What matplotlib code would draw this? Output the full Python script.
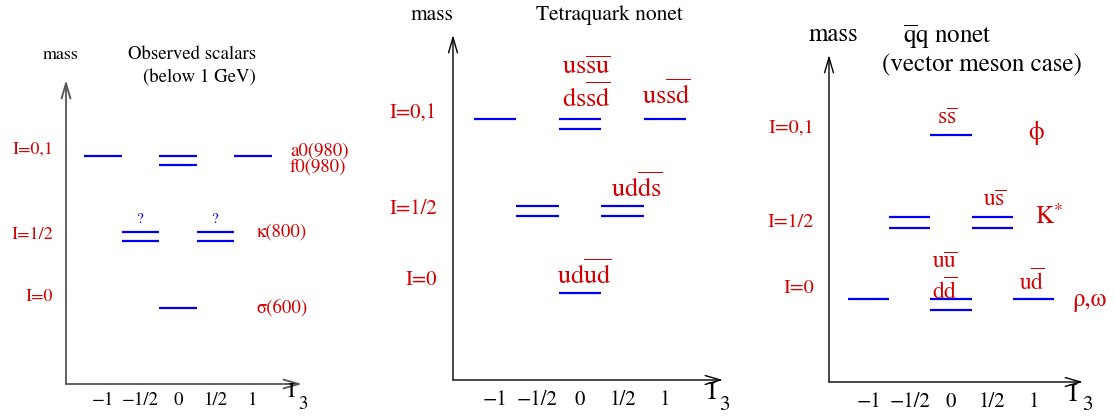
import matplotlib
matplotlib.use('Agg')
import matplotlib.pyplot as plt

plt.rcParams['font.family'] = 'STIXGeneral'
plt.rcParams['mathtext.fontset'] = 'stix'

RED = '#d40000'
BLUE = '#0000f0'

# shared axis labels
tick_pos = [-1, -0.5, 0, 0.5, 1]
tick_labels = ['\u22121', '\u22121/2', '0', '1/2', '1']
iso_levels = [0, 1, 2]
iso_labels = ['I=0', 'I=1/2', 'I=0,1']

# panel 1: observed scalars below 1 GeV
obs_i3 = [-1, 0, 1, -0.5, 0.5, 0]
obs_level = [2, 2, 2, 1, 1, 0]
obs_count = [1, 2, 1, 2, 2, 1]
obs_names = ['a0(980)\nf0(980)', '\u03ba(800)', '\u03c3(600)']

# panel 2: tetraquark nonet
tq_i3 = [-1, 0, 1, -0.5, 0.5, 0]
tq_level = [2, 2, 2, 1, 1, 0]
tq_count = [1, 2, 1, 2, 2, 1]
tq_quarks = [r'$\mathrm{us}\overline{\mathrm{su}}$',
             r'$\mathrm{ds}\overline{\mathrm{sd}}$',
             r'$\mathrm{us}\overline{\mathrm{sd}}$',
             r'$\mathrm{ud}\overline{\mathrm{ds}}$',
             r'$\mathrm{ud}\overline{\mathrm{ud}}$']

# panel 3: q-qbar nonet (vector mesons)
qq_i3 = [0, -0.5, 0.5, -1, 0, 1]
qq_level = [2, 1, 1, 0, 0, 0]
qq_count = [1, 2, 2, 1, 2, 1]
qq_quarks = [r'$\mathrm{s}\overline{\mathrm{s}}$',
             r'$\mathrm{u}\overline{\mathrm{s}}$',
             r'$\mathrm{u}\overline{\mathrm{u}}$',
             r'$\mathrm{d}\overline{\mathrm{d}}$',
             r'$\mathrm{u}\overline{\mathrm{d}}$']
qq_names = ['\u03d5', r'K$^{*}$', '\u03c1,\u03c9']

W, H = 1114, 416
fig = plt.figure(figsize=(W / 100, H / 100), dpi=100)


def panel(box, xlim, ylim, i3, level, count, gap, axcol, axlw,
          fs_tick, fs_iso, iso_x, iso_dy, i3_pos, fs_i3, tick_y):
    x0, x1, ytop, ybot = box
    ax = fig.add_axes([x0 / W, (H - ybot) / H, (x1 - x0) / W, (ybot - ytop) / H])
    ax.set_xlim(xlim)
    ax.set_ylim(ylim)
    ax.axis('off')
    arrow = dict(arrowstyle='->,head_length=0.55,head_width=0.16',
                 color=axcol, lw=axlw, mutation_scale=20, shrinkA=0, shrinkB=0)
    ax.annotate('', xy=(xlim[0], ylim[1]), xytext=(xlim[0], ylim[0]),
                arrowprops=arrow, annotation_clip=False)
    ax.annotate('', xy=(xlim[1], ylim[0]), xytext=(xlim[0], ylim[0]),
                arrowprops=arrow, annotation_clip=False)
    for x, lev, n in zip(i3, level, count):
        for k in range(n):
            ax.plot([x - 0.25, x + 0.25], [lev - k * gap] * 2, color=BLUE,
                    lw=1.6, solid_capstyle='butt', clip_on=False)
    for x, lab in zip(tick_pos, tick_labels):
        ax.text(x, tick_y, lab, fontsize=fs_tick, ha='center', va='center')
    for lev, lab, dy in zip(iso_levels, iso_labels, iso_dy):
        ax.text(iso_x, lev + dy, lab, fontsize=fs_iso, color=RED,
                ha='right', va='center')
    # I_3 axis label: big I with a lowered 3
    (ix, iy), (sx, sy) = i3_pos
    ax.text(ix, iy, 'I', fontsize=fs_i3, ha='center', va='center')
    ax.text(sx, sy, '3', fontsize=fs_i3 * 0.85, ha='center', va='center')
    return ax


# ---- panel 1
ax1 = panel((66, 302, 80, 384), (-1.493, 1.653), (-1.0, 3.0),
            obs_i3, obs_level, obs_count, 0.118, '#555555', 1.3,
            13.5, 13, -1.66, [0.15, -0.04, 0.09],
            ((1.507, -1.105), (1.667, -1.263)), 16, -1.21)
ax1.text(-1.56, 3.33, 'mass', fontsize=13, ha='center', va='center')
ax1.text(0.19, 3.33, 'Observed scalars', fontsize=13.5, ha='center', va='center')
ax1.text(0.28, 3.03, '(below 1 GeV)', fontsize=13.5, ha='center', va='center')
ax1.text(1.49, 1.96, obs_names[0], fontsize=13.5, color=RED, ha='left',
         va='center', linespacing=0.95)
ax1.text(1.05, 1.0, obs_names[1], fontsize=13.5, color=RED, ha='left', va='center')
ax1.text(1.05, 0.0, obs_names[2], fontsize=13.5, color=RED, ha='left', va='center')
for x in [-0.5, 0.5]:
    ax1.text(x, 1.17, '?', fontsize=11, color=BLUE, ha='center', va='center')

# ---- panel 2
ax2 = panel((453, 723, 35, 380), (-1.494, 1.682), (-1.0, 2.966),
            tq_i3, tq_level, tq_count, 0.12, 'black', 1.0,
            15, 15, -1.68, [0.15, -0.04, 0.07],
            ((1.553, -1.149), (1.694, -1.287)), 18, -1.23)
ax2.text(-1.74, 3.2, 'mass', fontsize=15.5, ha='center', va='center')
ax2.text(0.34, 3.2, 'Tetraquark nonet', fontsize=15.5, ha='center', va='center')
for lab, x, y in zip(tq_quarks, [0.07, 0.07, 1.02, 0.67, 0.05],
                     [2.59, 2.24, 2.28, 1.21, 0.21]):
    ax2.text(x, y, lab, fontsize=19, color=RED, ha='center', va='center')

# ---- panel 3
ax3 = panel((829, 1083, 55, 382), (-1.479, 1.6), (-1.01, 2.976),
            qq_i3, qq_level, qq_count, 0.134, 'black', 1.0,
            15, 14.5, -1.66, [0.13, -0.06, 0.085],
            ((1.479, -1.171), (1.648, -1.293)), 18, -1.26)
ax3.text(-1.42, 3.22, 'mass', fontsize=18, ha='center', va='center')
ax3.text(-0.04, 3.2, r'$\overline{\mathrm{q}}\mathrm{q}$ nonet', fontsize=18,
         ha='center', va='center')
ax3.text(0.376, 2.85, '(vector meson case)', fontsize=18, ha='center', va='center')
for lab, x, y in zip(qq_quarks, [-0.05, 0.53, -0.08, -0.08, 0.98],
                     [2.2, 1.21, 0.45, 0.11, 0.21]):
    ax3.text(x, y, lab, fontsize=17, color=RED, ha='center', va='center')
ax3.text(1.03, 2.02, qq_names[0], fontsize=18, color=RED, ha='center', va='center')
ax3.text(1.02, 0.99, qq_names[1], fontsize=18, color=RED, ha='left', va='center')
ax3.text(1.47, -0.01, qq_names[2], fontsize=18, color=RED, ha='left', va='center')

fig.savefig('out.png', dpi=100)
